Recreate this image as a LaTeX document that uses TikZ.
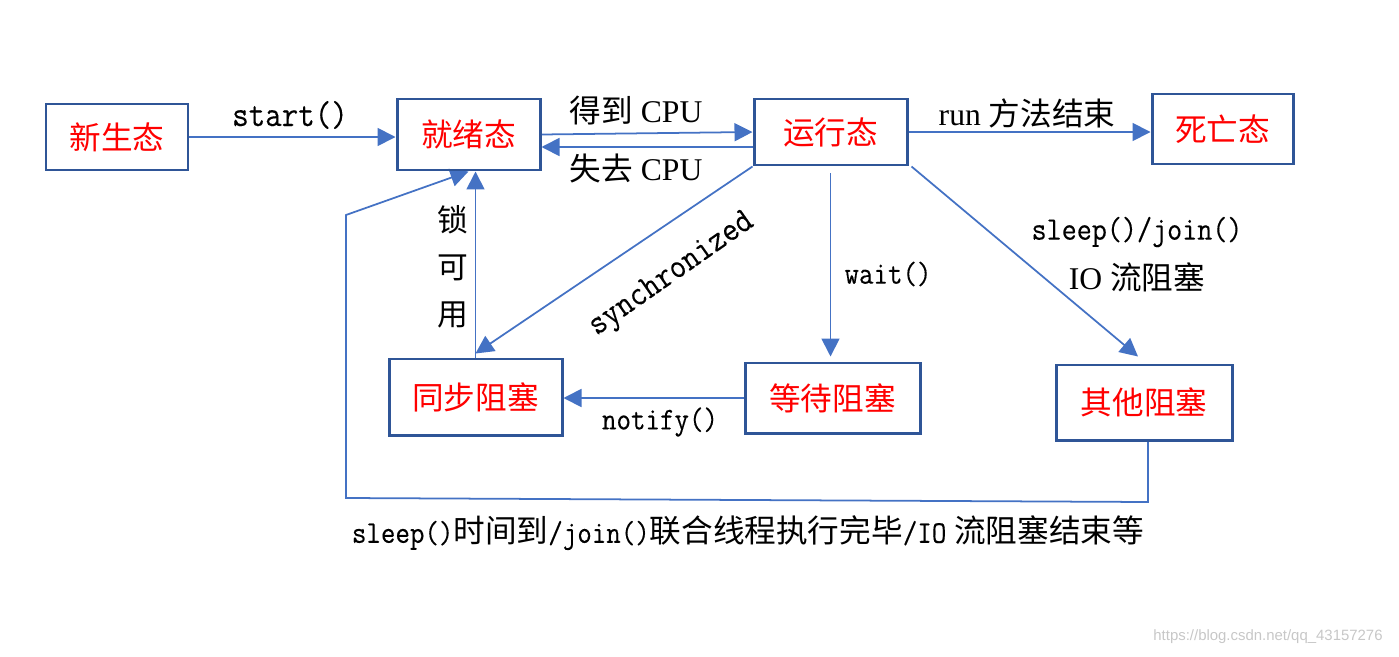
\documentclass[tikz,border=0pt]{standalone}
\usepackage{fontspec}
\setmainfont{Liberation Serif}
\setmonofont{Latin Modern Mono}[Scale=1.0, FakeStretch=0.89, FakeBold=0.2]
\newfontfamily\cjk{Noto Sans CJK SC}
\newfontfamily\wmark{Liberation Sans}
\usetikzlibrary{arrows.meta}
\definecolor{boxblue}{HTML}{2F5597}
\definecolor{arrblue}{HTML}{4472C4}
\pgfdeclarelayer{bg}
\pgfsetlayers{bg,main}
\tikzset{
    state/.style={rectangle, draw=boxblue, line width=1.7pt, text=red, inner sep=0mm, font=\cjk\fontsize{18}{20}\selectfont}
}
\tikzset{
    lbl/.style={inner sep=0mm, font=\fontsize{18}{21}\selectfont},
    arr/.style={draw=arrblue, line width=1pt, -{Triangle[length=3.6mm, width=3.6mm]}}
}

\begin{document}
\begin{tikzpicture}
    \useasboundingbox (0cm, 0cm) rectangle (27.98cm, 13.12cm);

    \node (xsz) [state, minimum width=2.84cm, minimum height=1.32cm] at (2.34cm, 10.38cm) {新生态};
    \node (jx) [state, minimum width=2.86cm, minimum height=1.42cm] at (9.37cm, 10.43cm) {就绪态};
    \node (yx) [state, minimum width=3.06cm, minimum height=1.32cm] at (16.61cm, 10.48cm) {运行态};
    \node (sw) [state, minimum width=2.82cm, minimum height=1.40cm] at (24.45cm, 10.54cm) {死亡态};
    \node (tb) [state, minimum width=3.46cm, minimum height=1.52cm] at (9.51cm, 5.18cm) {同步阻塞};
    \node (dd) [state, minimum width=3.50cm, minimum height=1.40cm] at (16.65cm, 5.16cm) {等待阻塞};
    \node (qt) [state, minimum width=3.52cm, minimum height=1.50cm] at (22.88cm, 5.07cm) {其他阻塞};

    \node (l_start) [lbl, font=\fontsize{20.5}{23}\selectfont] at (5.80cm, 10.82cm) {\texttt{start()}};
    \node (l_get) [lbl] at (12.72cm, 10.90cm) {{\cjk 得到} CPU};
    \node (l_lose) [lbl] at (12.72cm, 9.76cm) {{\cjk 失去} CPU};
    \node (l_run) [lbl] at (20.54cm, 10.86cm) {run {\cjk 方法结束}};
    \node (l_sync) [lbl, rotate=35, font=\fontsize{20}{22}\selectfont] at (13.44cm, 7.62cm) {\texttt{synchronized}};
    \node (l_wait) [lbl] at (17.76cm, 7.64cm) {\texttt{wait()}};
    \node (l_sj) [lbl, font=\fontsize{18.7}{21}\selectfont] at (22.74cm, 8.48cm) {\texttt{sleep()/join()}};
    \node (l_io) [lbl] at (22.74cm, 7.58cm) {IO {\cjk 流阻塞}};
    \node (l_notify) [lbl] at (13.20cm, 4.68cm) {\texttt{notify()}};
    \node (l_lock) [lbl, align=center, font=\cjk\fontsize{17.5}{26.7}\selectfont] at (9.06cm, 7.78cm) {锁\\可\\用};
    \node (l_back) [lbl] at (14.96cm, 2.46cm) {\texttt{sleep()}{\cjk 时间到}\texttt{/join()}{\cjk 联合线程执行完毕}\texttt{/IO} {\cjk 流阻塞结束等}};
    \node (wm) [lbl, font=\wmark\fontsize{8.5}{10}\selectfont, text=black!22] at (25.36cm, 0.38cm) {https://blog.csdn.net/qq\_43157276};

    \coordinate (r1) at (22.96cm, 3.08cm);
    \coordinate (r2) at (6.92cm, 3.16cm);
    \coordinate (r3) at (6.92cm, 8.82cm);

    \begin{pgfonlayer}{bg}
        \draw [arr] (xsz.east) -- (xsz.east -| jx.west);
        \draw [arr] (jx.east) -- (yx.west);
        \draw [arr] ([yshift=-0.30cm]yx.west) -- ([yshift=-0.30cm]yx.west -| jx.east);
        \draw [arr] (yx.east) -- (yx.east -| sw.west);
        \draw [arr] (yx.south west) -- ([yshift=0.08cm]tb.north);
        \draw [arr] (tb.north) -- (tb.north |- jx.south);
        \draw [arr, shorten <=0.14cm, shorten >=0.1cm] (yx.south) -- (yx.south |- dd.north);
        \draw [arr] ([xshift=0.06cm]yx.south east) -- ([xshift=-0.12cm, yshift=0.14cm]qt.north);
        \draw [arr] (dd.west) -- (dd.west -| tb.east);
        \draw [arr] ([xshift=0.08cm]qt.south) -- (r1) -- (r2) -- (r3) -- (jx.south);
    \end{pgfonlayer}
\end{tikzpicture}
\end{document}
